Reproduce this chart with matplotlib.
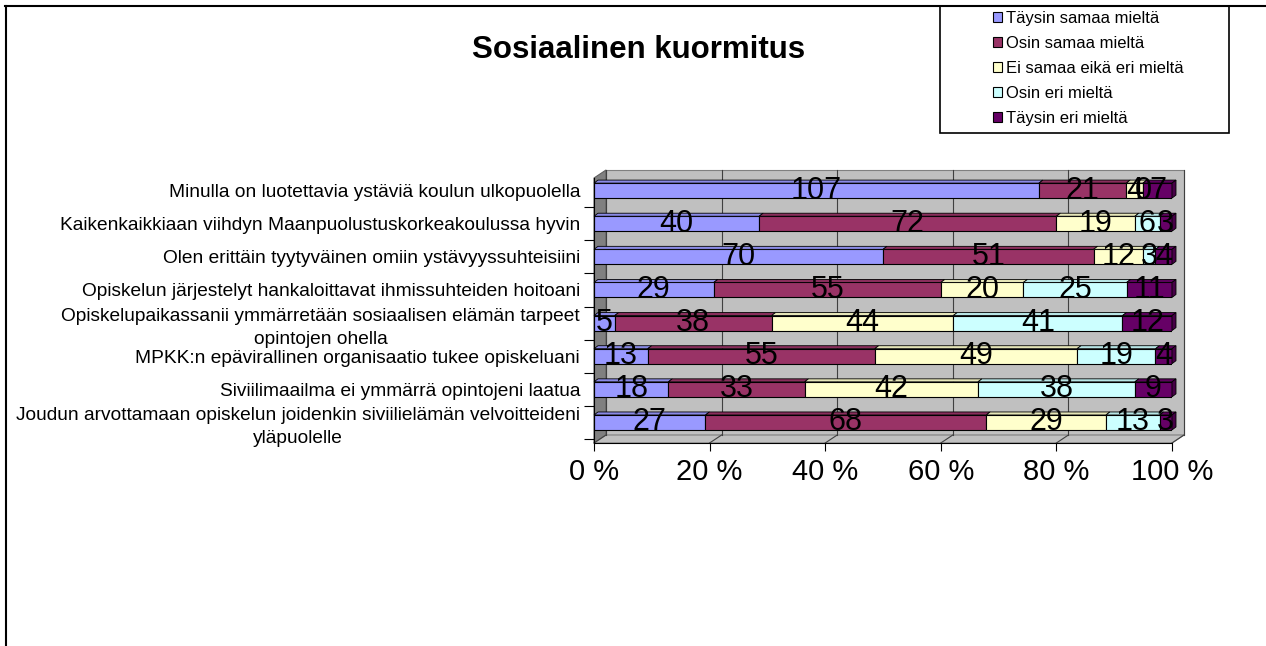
import matplotlib
matplotlib.use("Agg")
import matplotlib.pyplot as plt
from matplotlib.patches import Polygon, Rectangle, Patch
from matplotlib.lines import Line2D
import numpy as np

plt.rcParams['font.family'] = ['Liberation Sans', 'DejaVu Sans']

# categories, top to bottom as in the chart
categories = [
    "Minulla on luotettavia ystäviä koulun ulkopuolella",
    "Kaikenkaikkiaan viihdyn Maanpuolustuskorkeakoulussa hyvin",
    "Olen erittäin tyytyväinen omiin ystävyyssuhteisiini",
    "Opiskelun järjestelyt hankaloittavat ihmissuhteiden hoitoani",
    "Opiskelupaikassanii ymmärretään sosiaalisen elämän tarpeet\nopintojen ohella",
    "MPKK:n epävirallinen organisaatio tukee opiskeluani",
    "Siviilimaailma ei ymmärrä opintojeni laatua",
    "Joudun arvottamaan opiskelun joidenkin siviilielämän velvoitteideni\nyläpuolelle",
]
series_names = ["Täysin samaa mieltä", "Osin samaa mieltä", "Ei samaa eikä eri mieltä",
                "Osin eri mieltä", "Täysin eri mieltä"]
taysin_samaa = [107, 40, 70, 29, 5, 13, 18, 27]
osin_samaa = [21, 72, 51, 55, 38, 55, 33, 68]
ei_samaa_eika_eri = [4, 19, 12, 20, 44, 49, 42, 29]
osin_eri = [0, 6, 3, 25, 41, 19, 38, 13]
taysin_eri = [7, 3, 4, 11, 12, 4, 9, 3]
x_ticklabels = ["0 %", "20 %", "40 %", "60 %", "80 %", "100 %"]

colors = ["#9999FF", "#993366", "#FFFFCC", "#CCFFFF", "#660066"]

W, H = 1266, 646
fig = plt.figure(figsize=(W / 100, H / 100), dpi=100)

# axes placed in pixels: x 594..1172, y 178..443
ax = fig.add_axes([594 / W, 1 - 443 / H, 578 / W, 265 / H])
y_lo, y_hi = -0.12, 7.88
ax.set_xlim(0, 100)
ax.set_ylim(y_lo, y_hi)

n = len(categories)
ypos = np.arange(n)[::-1] + 0.5  # first category on top

vals = np.array([taysin_samaa, osin_samaa, ei_samaa_eika_eri, osin_eri, taysin_eri], dtype=float)
pct = vals / vals.sum(axis=0) * 100

# 3d-ish depth offsets (data units)
px_x = 100 / 578
px_y = (y_hi - y_lo) / 265
dxw, dyw = 12 * px_x, 8 * px_y   # walls
dxb, dyb = 4 * px_x, 3 * px_y    # bars
bh = 15 * px_y


def shade(c, f):
    rgb = np.array(matplotlib.colors.to_rgb(c))
    return tuple(rgb * f)


# walls and floor
ax.add_patch(Polygon([(dxw, y_lo + dyw), (100 + dxw, y_lo + dyw), (100 + dxw, y_hi + dyw), (dxw, y_hi + dyw)],
                     closed=True, facecolor="#C0C0C0", edgecolor="#808080", lw=0.8, clip_on=False, zorder=0))
ax.add_patch(Polygon([(0, y_lo), (dxw, y_lo + dyw), (dxw, y_hi + dyw), (0, y_hi)],
                     closed=True, facecolor="#808080", edgecolor="#606060", lw=0.8, clip_on=False, zorder=0))
ax.add_patch(Polygon([(0, y_lo), (100, y_lo), (100 + dxw, y_lo + dyw), (dxw, y_lo + dyw)],
                     closed=True, facecolor="#C0C0C0", edgecolor="#808080", lw=0.8, clip_on=False, zorder=0))
for t in range(0, 101, 20):
    ax.plot([t + dxw, t + dxw], [y_lo + dyw, y_hi + dyw], color="#404040", lw=0.8, clip_on=False, zorder=0.5)
    ax.plot([t, t + dxw], [y_lo, y_lo + dyw], color="#404040", lw=0.8, clip_on=False, zorder=0.5)

# bars
left = np.zeros(n)
for k in range(len(series_names)):
    w = pct[k]
    ax.barh(ypos, w, left=left, height=bh, color=colors[k], edgecolor="black", lw=0.8,
            zorder=2, label=series_names[k])
    for i in range(n):
        L, R, yc = left[i], left[i] + w[i], ypos[i]
        if w[i] > 0:
            ax.add_patch(Polygon([(L, yc + bh / 2), (L + dxb, yc + bh / 2 + dyb),
                                  (R + dxb, yc + bh / 2 + dyb), (R, yc + bh / 2)],
                                 closed=True, facecolor=shade(colors[k], 0.9), edgecolor="black",
                                 lw=0.6, clip_on=False, zorder=2))
        if k == len(series_names) - 1:
            ax.add_patch(Polygon([(R, yc - bh / 2), (R + dxb, yc - bh / 2 + dyb),
                                  (R + dxb, yc + bh / 2 + dyb), (R, yc + bh / 2)],
                                 closed=True, facecolor=shade(colors[k], 0.7), edgecolor="black",
                                 lw=0.6, clip_on=False, zorder=2))
    for i in range(n):
        ax.text(left[i] + w[i] / 2, ypos[i], "%d" % vals[k][i], ha="center", va="center",
                fontsize=22, color="black", zorder=5, clip_on=False)
    left = left + w

# axes styling
for s in ["top", "right"]:
    ax.spines[s].set_visible(False)
ax.spines["left"].set_color("black")
ax.spines["bottom"].set_color("black")
ax.set_xticks(range(0, 101, 20))
ax.set_xticklabels(x_ticklabels, fontsize=21)
ax.tick_params(axis="x", length=6, width=0.8, pad=5)
ax.set_yticks(ypos)
ax.set_yticklabels(categories, fontsize=13.8, multialignment="center", linespacing=1.45)
ax.tick_params(axis="y", which="major", length=0, pad=10)
ax.set_yticks(np.arange(0, n) + 0.0, minor=True)
ax.tick_params(axis="y", which="minor", length=7, width=0.8)
ax.set_facecolor("none")

# title
fig.text(639 / W, 1 - 50 / H, "Sosiaalinen kuormitus", ha="center", va="center",
         fontsize=22.5, fontweight="bold")

# legend with its own frame
fig.add_artist(Rectangle((940 / W, 1 - 133 / H), 289 / W, 127 / H, transform=fig.transFigure,
                         facecolor="white", edgecolor="black", lw=1.2))
handles = [Patch(facecolor=c, edgecolor="black", lw=0.8) for c in colors]
fig.legend(handles, series_names, loc="upper left", bbox_to_anchor=(983 / W, 1 - 1 / H),
           frameon=False, fontsize=12, handlelength=0.55, handleheight=0.55,
           handletextpad=0.25, labelspacing=0.6, borderpad=0.1)

# figure border (top and left)
fig.add_artist(Line2D([5 / W, 1], [1 - 6 / H, 1 - 6 / H], transform=fig.transFigure, color="black", lw=1.5))
fig.add_artist(Line2D([6 / W, 6 / W], [0, 1 - 6 / H], transform=fig.transFigure, color="black", lw=1.5))

fig.savefig("out.png", dpi=100)
